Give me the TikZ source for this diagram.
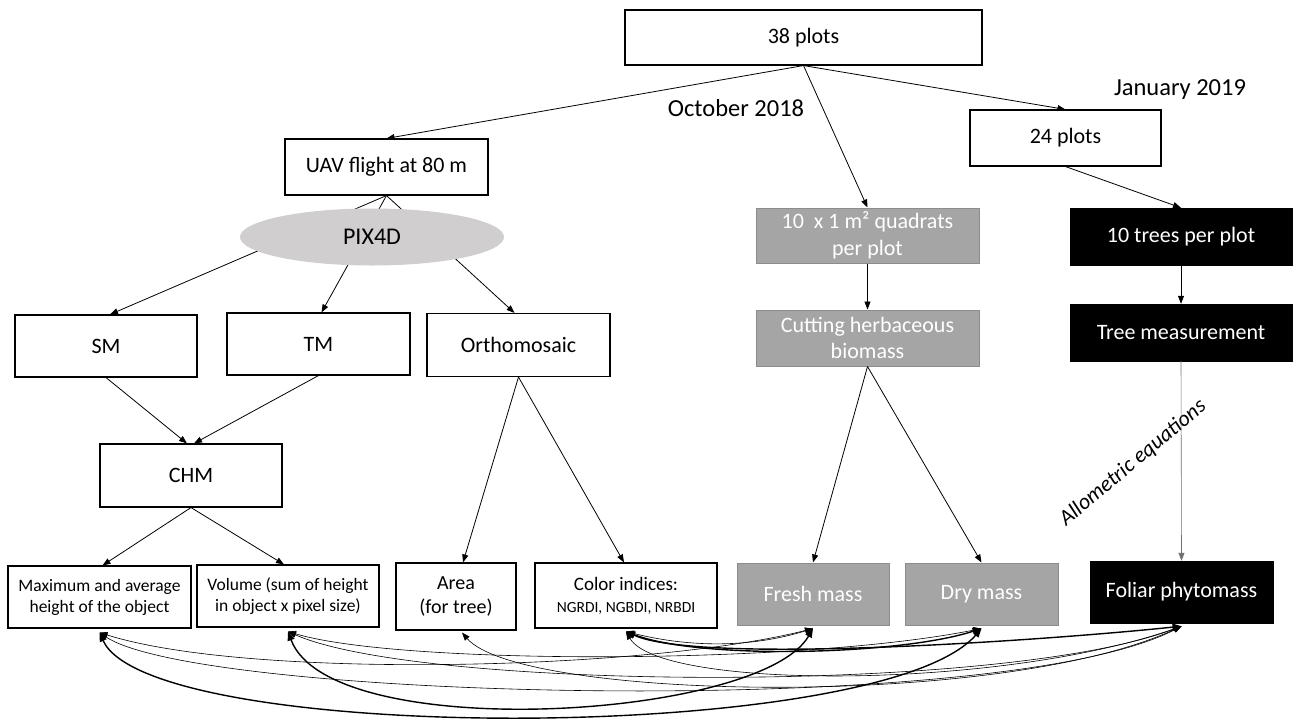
\documentclass[tikz,border=0pt]{standalone}
\usepackage{fontspec}
\setmainfont{Carlito}
\usetikzlibrary{arrows.meta,shapes.geometric,backgrounds}
\definecolor{gbox}{HTML}{A5A5A5}
\definecolor{gedge}{HTML}{8C8C8C}
\definecolor{ellfill}{HTML}{D0CECE}
\definecolor{glink}{HTML}{707070}
\begin{document}
\begin{tikzpicture}[x=1pt,y=-1pt,
  wh/.style 2 args={minimum width=#1,minimum height=#2},
  big/.style={font=\fontsize{22}{26.5}\selectfont},
  wbox/.style={draw=black,line width=1.1pt,fill=white,inner sep=0pt,align=center,big},
  gbx/.style={draw=gedge,line width=1pt,fill=gbox,text=white,inner sep=0pt,align=center,big},
  kbx/.style={draw=black,fill=black,text=white,inner sep=0pt,align=center,big},
  conn/.style={-{Triangle[length=8pt,width=6pt]},line width=0.8pt},
  bithin/.style={{Triangle[length=8pt,width=6pt]}-{Triangle[length=8pt,width=6pt]},line width=0.6pt},
  bithick/.style={{Triangle[length=9pt,width=7pt]}-{Triangle[length=9pt,width=7pt]},line width=1.4pt}]
\useasboundingbox (0,0) rectangle (1293,718);

% top
\node[wbox,wh={357pt}{55pt}] (p38) at (803.5,37.5) {38 plots};
\node[wbox,wh={203pt}{56pt}] (uav) at (386.5,167) {UAV flight at 80 m};
\node[ellipse,fill=ellfill,wh={264pt}{57pt},inner sep=0pt,font=\fontsize{24}{28}\selectfont] (pix) at (372,237) {PIX4D};
\node[big,font=\fontsize{24.5}{28}\selectfont] (oct) at (736,108) {October 2018};
\node[big,font=\fontsize{24.5}{28}\selectfont] (jan) at (1180,90) {January 2019};

% left column
\node[wbox,wh={182pt}{62pt}] (sm) at (106,346) {SM};
\node[wbox,wh={183pt}{62pt}] (tm) at (318.5,344) {TM};
\node[wbox,wh={183pt}{63pt}] (ortho) at (518.5,345) {Orthomosaic};
\node[wbox,wh={182pt}{63pt}] (chm) at (191,475.5) {CHM};

\node[wbox,wh={183pt}{62pt},font=\fontsize{17.5}{21}\selectfont] (max) at (99.5,597) {Maximum and average\\height of the object};
\node[wbox,wh={182pt}{62pt},font=\fontsize{17.5}{21}\selectfont] (vol) at (288,596) {Volume (sum of height\\in object x pixel size)};
\node[wbox,wh={120pt}{67pt},font=\fontsize{20}{23.5}\selectfont] (area) at (456,596.5) {Area\\(for tree)};
\node[wbox,wh={182pt}{65pt},font=\fontsize{19}{22}\selectfont] (col) at (626,595.5) {Color indices:\\{\fontsize{15.5}{18}\selectfont NGRDI, NGBDI, NRBDI}};

% middle column
\node[gbx,wh={223pt}{55pt}] (quad) at (867.5,235.5) {10~ x 1 m² quadrats\\per plot};
\node[gbx,wh={223pt}{56pt}] (cut) at (867.5,338) {Cutting herbaceous\\biomass};
\node[gbx,wh={152pt}{62pt}] (fresh) at (813,594) {Fresh mass};
\node[gbx,wh={153pt}{62pt}] (dry) at (981.5,594) {Dry mass};

% right column
\node[wbox,wh={191pt}{56pt}] (p24) at (1065.5,138) {24 plots};
\node[kbx,wh={222pt}{57pt}] (trees) at (1181,236.5) {10 trees per plot};
\node[kbx,wh={222pt}{57pt}] (treem) at (1181,332.5) {Tree measurement};
\node[kbx,wh={183pt}{62pt}] (fol) at (1181.5,592) {Foliar phytomass};
\node[rotate=40,font=\itshape\fontsize{22}{26}\selectfont] (allo) at (1133,463) {Allometric equations};

% connectors
\draw[conn] (p38.south) -- (uav.north);
\draw[conn] (p38.south) -- (quad.north);
\draw[conn] (p38.south) -- (p24.north);
\draw[conn] (p24.south) -- (trees.north);
\draw[conn] (trees.south) -- (treem.north);
\draw[-{Triangle[length=8pt,width=6pt]},line width=0.6pt,glink] (treem.south) -- (fol.north);
\draw[conn] (quad.south) -- (cut.north);
\draw[conn] (cut.south) -- (fresh.north);
\draw[conn] (cut.south) -- (dry.north);
\begin{scope}[on background layer]
\draw[conn] (uav.south) -- ([xshift=4pt]sm.north);
\draw[conn] (uav.south) -- ([xshift=3pt]tm.north);
\draw[conn] (uav.south) -- ([xshift=-4pt]ortho.north);
\end{scope}
\draw[conn] (sm.south) -- ([xshift=-4pt]chm.north);
\draw[conn] (tm.south) -- ([xshift=3pt]chm.north);
\draw[conn] (chm.south) -- ([xshift=3pt]max.north);
\draw[conn] (chm.south) -- ([xshift=-4pt]vol.north);
\draw[conn] (ortho.south) -- ([xshift=7pt]area.north);
\draw[conn] (ortho.south) -- ([xshift=-2pt]col.north);

% bottom tips
\coordinate (tmax) at ([yshift=-4pt]max.south);
\coordinate (tvol) at ([yshift=-4pt]vol.south);
\coordinate (tarea) at ([xshift=6pt,yshift=-2pt]area.south);
\coordinate (tcol) at ([yshift=-3pt]col.south);
\coordinate (tfresh) at ([yshift=-3pt]fresh.south);
\coordinate (tdry) at ([yshift=-3pt]dry.south);
\coordinate (tfol) at ([yshift=-3pt]fol.south);

\draw[bithick] (tmax) .. controls (150,745) and (880,745) .. (tdry);
\draw[bithick] (tvol) .. controls (330,745) and (760,720) .. (tfresh);
\draw[bithick] (tcol) .. controls (700,660) and (900,655) .. (tdry);
\draw[bithick] (tcol) .. controls (700,665) and (1050,640) .. (tfol);
\draw[bithin] (tmax) .. controls (250,680) and (650,670) .. (tfresh);
\draw[bithin] (tmax) .. controls (200,700) and (1000,720) .. (tfol);
\draw[bithin] (tvol) .. controls (400,665) and (800,665) .. (tdry);
\draw[bithin] (tvol) .. controls (420,690) and (1000,695) .. (tfol);
\draw[bithin] (tarea) .. controls (520,700) and (1000,710) .. (tfol);
\draw[bithin] (tcol) .. controls (660,690) and (1000,690) .. (tfol);
\draw[bithin] (tcol) .. controls (700,650) and (760,645) .. (tfresh);
\end{tikzpicture}
\end{document}
